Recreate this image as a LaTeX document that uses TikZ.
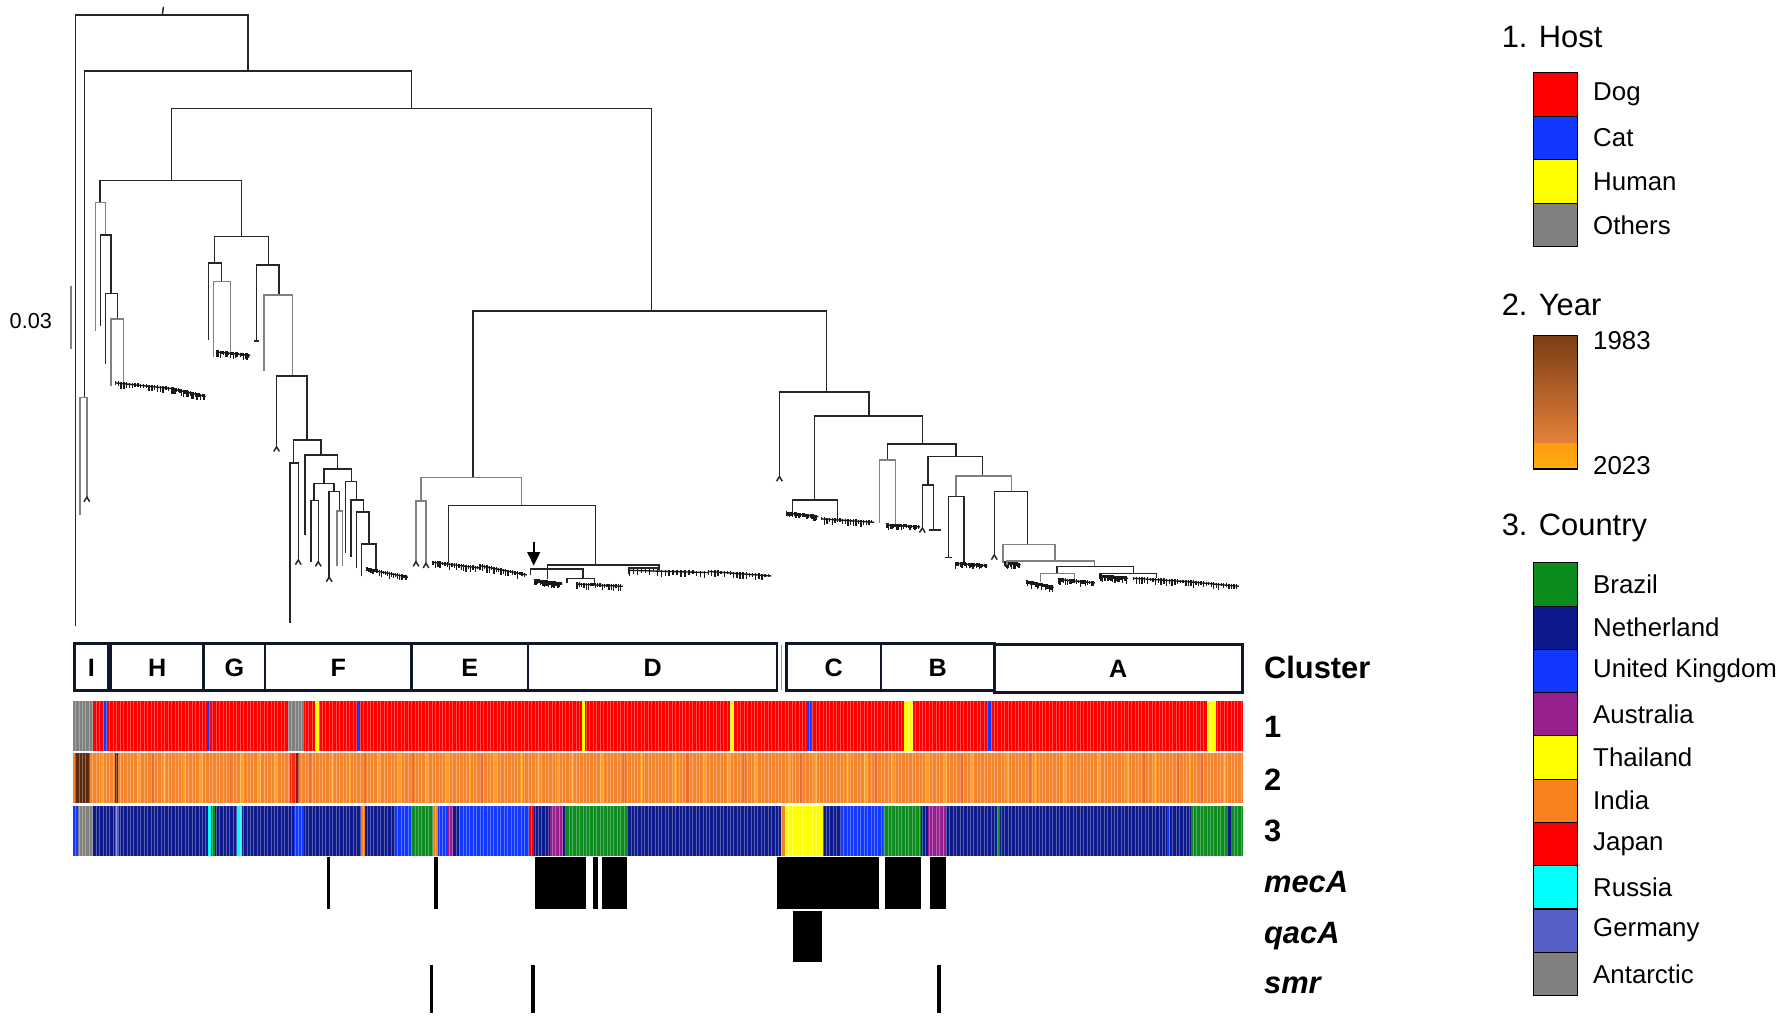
\documentclass[tikz,border=0pt]{standalone}
\usepackage{fontspec}
\setmainfont{Liberation Sans}
\usetikzlibrary{calc,arrows.meta}
\definecolor{dog}{HTML}{FF0000}
\definecolor{cat}{HTML}{1238FF}
\definecolor{hum}{HTML}{FFFF00}
\definecolor{oth}{HTML}{808080}
\definecolor{bra}{HTML}{0A8C1E}
\definecolor{ned}{HTML}{0E1A8C}
\definecolor{uk}{HTML}{1238FF}
\definecolor{aus}{HTML}{96208E}
\definecolor{tha}{HTML}{FFFF00}
\definecolor{ind}{HTML}{F7821E}
\definecolor{jap}{HTML}{FF0000}
\definecolor{rus}{HTML}{00FFFF}
\definecolor{ger}{HTML}{5660C6}
\definecolor{ant}{HTML}{808080}
\definecolor{yr}{HTML}{F5852C}
\definecolor{yrlight}{HTML}{FFA02A}
\definecolor{yrdark}{HTML}{EC6C30}
\definecolor{yrold}{HTML}{5B2A10}
\definecolor{yrtop}{HTML}{7B3D14}
\definecolor{yrmid}{HTML}{B45A26}
\definecolor{yrlow}{HTML}{E5823A}
\definecolor{yrbot}{HTML}{FF9A12}
\definecolor{boxnavy}{HTML}{10162E}
\newcommand{\titlefont}{\fontsize{13.5}{16}\selectfont}
\newcommand{\itemfont}{\fontsize{11.3}{14}\selectfont}
\newcommand{\rowfont}{\fontsize{13.5}{16}\selectfont\bfseries}
% clade: [style]{y}{x left}{x right}{end left}{end right}
\newcommand{\clade}[6][br]{\draw[#1] (#3,#5) |- (#4,#2) -- (#4,#6);}
\newcommand{\fork}[2]{\draw[br] ({#1-2.5},{#2+4}) -- (#1,#2) -- ({#1+2.5},{#2+4});}
\newcommand{\comb}[4]{%
  \draw[leaf] (#1,#2) -- (#3,#4);
  \foreach \t in {0,0.05,...,1}
    \draw[leaf] ($(#1,#2)!\t!(#3,#4)$) ++(0,-1.5) -- ++(0,{2.5+4*rnd});
}
\tikzset{
  br/.style={draw=black!85, line width=0.65pt},
  brg/.style={draw=black!50, line width=0.65pt},
  leaf/.style={draw=black!90, line width=0.6pt},
  clusterbox/.style={draw=boxnavy, line width=1.1pt},
  clustertext/.style={font=\fontsize{11}{13}\selectfont\bfseries},
  legendbox/.style={draw=black, line width=0.5pt},
  legendtext/.style={anchor=west, font=\itemfont},
  legendtitle/.style={anchor=west, font=\titlefont},
  rowlabel/.style={anchor=west, font=\rowfont},
  cellsep/.style={white, opacity=0.3, line width=0.25pt},
}

\begin{document}
\begin{tikzpicture}[x=0.5pt, y=-0.5pt]
\useasboundingbox (0,0) rectangle (1561,891);
\pgfmathsetseed{7}
%scale
\draw[brg] (62,250) -- (62,305);
\node[font=\fontsize{9.5}{11}\selectfont] (scalelbl) at (27,281) {0.03};
%root
\clade{13}{66}{217}{548}{62}
\draw[br] (142,13) -- (143,6);
\clade{62}{74}{360}{348}{95}
\clade[brg]{348}{70}{76}{451}{435}
\fork{76}{435}
\clade{95}{150}{570}{158}{272}
%H and I
\clade{158}{87.5}{211.5}{177}{207}
\clade[brg]{177}{83.7}{92.3}{290}{205.6}
\clade{205.6}{88}{97}{285}{256.6}
\clade{256.6}{92.3}{102.6}{318.5}{279}
\clade[brg]{279}{97}{108}{338}{335}
\comb{101}{335}{150}{340}
\comb{150}{340}{180}{347}
%G
\clade{207}{187.5}{234.8}{230}{232}
\clade{230}{182.3}{194}{297.5}{246.5}
\clade[brg]{246.5}{186.6}{201.8}{312}{307.7}
\comb{190}{308}{219}{311}
\clade{232}{224.6}{244}{298.4}{258}
\draw[br] (222,298.4) -- (227,298.4);
%F
\clade[brg]{258}{231}{256}{325}{329}
\clade{329}{242}{268.5}{391}{385}
\fork{242}{391}
\clade{385}{257}{281}{405}{398}
\clade{405}{253.8}{261}{545}{490}
\fork{261}{490}
\clade{398}{267}{295.5}{468}{410.4}
\clade{410.4}{283.6}{307.5}{423}{421.5}
\clade{423}{274.8}{292.3}{438}{430}
\clade{438}{272}{278.5}{491.5}{491.5}
\fork{278.5}{491.5}
\clade{430}{288}{297}{505}{447}
\fork{288}{505}
\clade[brg]{447}{294.7}{299.5}{495.6}{495.6}
\clade{421.5}{302.5}{312}{483.6}{437.5}
\clade{437.5}{307}{318}{487}{448}
\clade{448}{312}{323}{497}{476}
\clade{476}{316.5}{329}{504}{498}
\comb{321}{498}{357}{505}
%E and D
\clade{272}{414}{723}{418}{343}
\clade[brg]{418}{368.4}{456.5}{438.4}{442.5}
\clade[brg]{438.4}{364}{372.75}{491.5}{492.9}
\fork{364}{491.5}
\fork{372.75}{492.9}
\clade{442.5}{392.3}{521.2}{492.3}{494.4}
\comb{379}{492}{420}{497}
\comb{420}{495}{461}{503}
\clade{494.4}{479.2}{576.6}{507}{497}
\clade{498}{464}{510}{503}{506}
\comb{468}{508}{492}{511}
\clade{506}{496}{520}{510}{511}
\comb{505}{511}{545}{513}
\clade{497}{550}{576.6}{502}{499}
\comb{551}{499}{620}{501}
\comb{620}{500}{675}{504}
\draw[-{Triangle[length=6pt,width=5.5pt]}, line width=1pt] (467,474) -- (467,495);
%C, B and A
\clade{343}{682}{760.4}{417}{364}
\fork{682}{417}
\clade{364}{712.5}{807}{437.5}{388.5}
\clade{437.5}{693.3}{733}{449}{454}
\comb{688}{449}{716}{452}
\comb{719}{454}{765}{457}
\clade{388.5}{776.4}{836.5}{402.5}{399.6}
\clade[brg]{402.5}{769.4}{783.7}{457.4}{459.4}
\comb{776}{459.4}{805}{461}
\clade{399.6}{812}{859.5}{424.4}{416.5}
\clade{424.4}{807}{817}{462}{463.75}
\fork{807}{462}
\draw[br] (813,463.75) -- (823,463.75);
\clade[brg]{416.5}{836.5}{885}{434.6}{430}
\clade{434.6}{829.8}{843.5}{488}{492.7}
\draw[br] (827,488) -- (833,488);
\comb{836}{493}{864}{495}
\clade{430}{870}{899}{485.6}{476.3}
\fork{870}{485.6}
\clade[brg]{476.3}{877.7}{922.9}{492.3}{491}
\comb{879}{492.3}{893}{494}
\clade[brg]{491}{881}{957.7}{494}{495.8}
\clade{495.8}{924.9}{991.9}{502}{502}
\clade[brg]{502}{910.3}{940}{508.8}{507}
\comb{898}{509}{922}{514}
\comb{926}{507}{958}{510}
\clade{502}{962}{1012}{504}{505.8}
\comb{962}{504}{987}{506}
\comb{992}{506}{1040}{509}
\comb{1040}{509}{1084}{513}
%clusters
\draw[clusterbox] (65,563) rectangle (95,604);
\draw[clusterbox] (97,563) rectangle (178,604);
\draw[clusterbox] (178,563) rectangle (232,604);
\draw[clusterbox] (232,563) rectangle (360,604);
\draw[clusterbox] (360,563) rectangle (462,604);
\draw[clusterbox] (462,563) rectangle (680,604);
\draw[black!40, line width=0.5pt] (684,564) -- (684,604);
\draw[clusterbox] (688,563) rectangle (771,604);
\draw[clusterbox] (771,563) rectangle (870,604);
\draw[clusterbox] (870,564) rectangle (1087,606);
\node[clustertext] (ci) at (80,584) {I};
\node[clustertext] (ch) at (137.5,584) {H};
\node[clustertext] (cg) at (205,584) {G};
\node[clustertext] (cf) at (296,584) {F};
\node[clustertext] (ce) at (411,584) {E};
\node[clustertext] (cd) at (571,584) {D};
\node[clustertext] (cc) at (729.5,584) {C};
\node[clustertext] (cb) at (820.5,584) {B};
\node[clustertext] (ca) at (978.5,585) {A};
%1 host
\fill[dog] (64,613) rectangle (1088,657);
\foreach \a/\b/\c in {64/81/oth, 91/94/cat, 181/184/cat, 252/266/oth, 276/279/hum,
  312/315/cat, 509/512/hum, 639/642/hum, 707/710/cat, 791/799/hum, 864/867/cat,
  1056/1064/hum}
  \fill[\c] (\a,613) rectangle (\b,657);
%2 year
\fill[yr] (64,659) rectangle (1088,703);
\foreach \x in {88,120,143,160,175,210,226,240,290,305,330,348,372,390,410,432,455,
  470,487,500,525,560,590,615,636,660,690,712,740,756,780,810,826,850,880,905,930,
  960,985,1010,1040,1070}
  \fill[yrlight] (\x,659) rectangle ({\x+2.5},703);
\foreach \x in {132,200,270,318,360,420,545,600,650,700,765,840,900,1000,1030,1050}
  \fill[yrdark] (\x,659) rectangle ({\x+2.5},703);
\fill[yrold] (66,659) rectangle (79,703);
\fill[yrold] (101,659) rectangle (103.5,703);
\fill[red!70!yr] (254,659) rectangle (259,703);
\fill[yrold!70!red] (259,659) rectangle (262,703);
%3 country
\fill[ned] (64,705) rectangle (1088,749);
\foreach \a/\b/\c in {64/68/uk, 68/81/ant, 101/104/ger, 182/185/rus, 185/188/bra,
  207/212/rus, 257/266/uk, 316/319/ind, 346/360/uk, 360/379/bra, 379/383/ind,
  383/392/uk, 392/396/aus, 402/463/uk, 463/467/jap, 481/493/aus, 495/549/bra,
  683/687/ind, 687/720/tha, 736/773/uk, 773/806/bra, 812/828/aus, 872/875/bra,
  1021/1024/uk, 1042/1074/bra, 1078/1088/bra}
  \fill[\c] (\a,705) rectangle (\b,749);
\foreach \x in {66,69,...,1086}
  \draw[cellsep] (\x,613) -- (\x,749);
%genes
\foreach \a/\b in {286/289, 380/383, 468/513, 519/523, 527/549, 680/769, 774/806, 814/828}
  \fill (\a,750) rectangle (\b,795);
\fill (694,797) rectangle (719,842);
\foreach \a/\b in {376/379, 465/468, 820/823}
  \fill (\a,844) rectangle (\b,886);
%row labels
\node[rowlabel] (lblcluster) at (1099,584) {Cluster};
\node[rowlabel] (lblhost) at (1099,636) {1};
\node[rowlabel] (lblyear) at (1099,682) {2};
\node[rowlabel] (lblcountry) at (1099,727) {3};
\node[rowlabel] (lblmeca) at (1099,772) {\itshape mecA};
\node[rowlabel] (lblqaca) at (1099,819) {\itshape qacA};
\node[rowlabel] (lblsmr) at (1099,862) {\itshape smr};
%legend host
\node[legendtitle] (hosttitle) at (1307,32) {1. Host};
\foreach \name/\col [count=\i] in {Dog/dog, Cat/cat, Human/hum, Others/oth} {
  \draw[legendbox, fill=\col] (1342,{63.6+38.05*(\i-1)}) rectangle (1380,{63.6+38.05*\i});
  \node[legendtext] (host\i) at (1387,{82.6+38.05*(\i-1)}) {\name};
}
%legend year
\node[legendtitle] (yeartitle) at (1307,267) {2. Year};
\shade[top color=yrtop, middle color=yrmid, bottom color=yrlow] (1342,293.7) rectangle (1380,388);
\shade[top color=yrbot, bottom color=yrbot!80!yellow] (1342,388) rectangle (1380,410.4);
\draw[legendbox] (1342,293.7) rectangle (1380,410.4);
\node[legendtext] (yearold) at (1387,298) {1983};
\node[legendtext] (yearnew) at (1387,407) {2023};
%legend country
\node[legendtitle] (countrytitle) at (1307,462) {3. Country};
\foreach \name/\col [count=\i] in {Brazil/bra, Netherland/ned, United Kingdom/uk,
  Australia/aus, Thailand/tha, India/ind, Japan/jap, Russia/rus, Germany/ger, Antarctic/ant} {
  \draw[legendbox, fill=\col] (1342,{492.5+37.85*(\i-1)}) rectangle (1380,{492.5+37.85*\i});
  \node[legendtext] (country\i) at (1387,{511.4+37.85*(\i-1)}) {\name};
}
\end{tikzpicture}
\end{document}
